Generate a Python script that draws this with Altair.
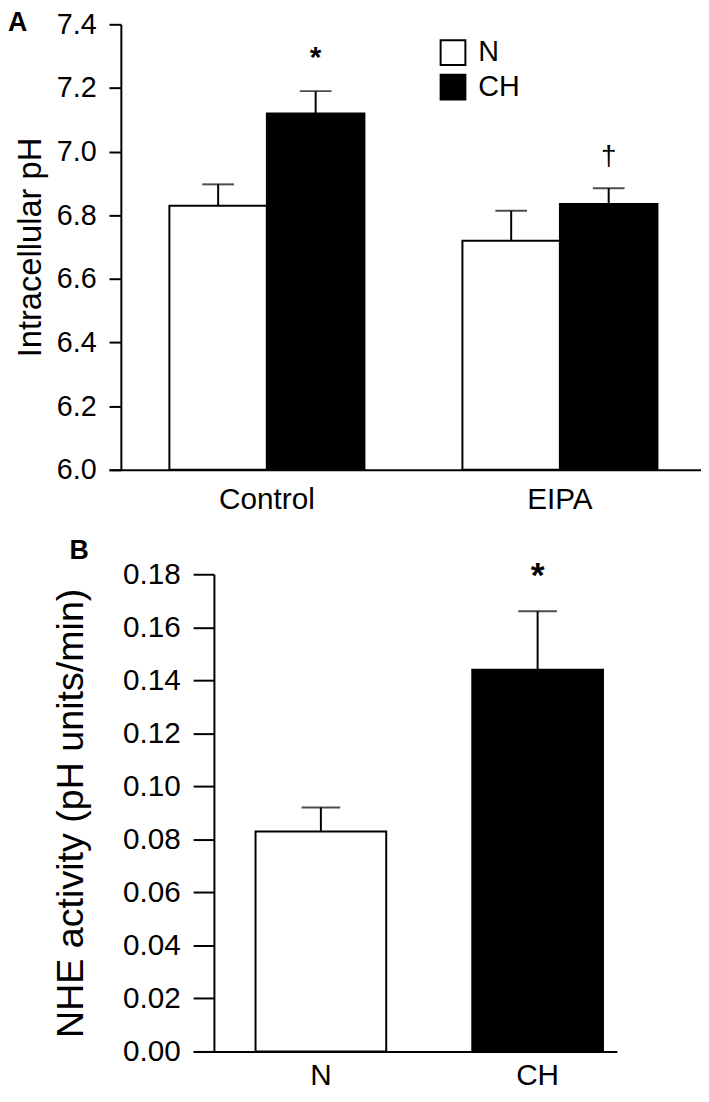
import altair as alt
import pandas as pd

FONT = "Liberation Sans"

# ---------------- Panel A data ----------------
a_group = ["Control", "Control", "EIPA", "EIPA"]
a_cond = ["N", "CH", "N", "CH"]
a_mean = [6.83, 7.12, 6.72, 6.835]
a_sem = [0.067, 0.07, 0.094, 0.05]
a_mark = ["", "*", "", "†"]
a_ticks = [6.0, 6.2, 6.4, 6.6, 6.8, 7.0, 7.2, 7.4]
a_groups_order = ["Control", "EIPA"]

# ---------------- Panel B data ----------------
b_cond = ["N", "CH"]
b_mean = [0.083, 0.144]
b_sem = [0.009, 0.022]
b_mark = ["", "*"]
b_ticks = [0.00, 0.02, 0.04, 0.06, 0.08, 0.10, 0.12, 0.14, 0.16, 0.18]

cond_order = ["N", "CH"]
cond_fill = ["white", "black"]
panel_labels = ["A", "B"]

dfA = pd.DataFrame({"group": a_group, "cond": a_cond, "mean": a_mean, "sem": a_sem, "mark": a_mark})
dfA["upper"] = dfA["mean"] + dfA["sem"]
dfB = pd.DataFrame({"cond": b_cond, "mean": b_mean, "sem": b_sem, "mark": b_mark})
dfB["upper"] = dfB["mean"] + dfB["sem"]

# ---------------- Panel A ----------------
xA = alt.X("group:N", sort=a_groups_order,
           scale=alt.Scale(paddingInner=0.3345, paddingOuter=0.1774, align=0.581),
           axis=alt.Axis(title=None, ticks=False, labelAngle=0, labelFontSize=30,
                         labelPadding=15, domainWidth=2, domainColor="black",
                         labelColor="black", labelFont=FONT))
xoA = alt.XOffset("cond:N", sort=cond_order, scale=alt.Scale(paddingInner=0, paddingOuter=0))
yA = alt.Y("mean:Q", scale=alt.Scale(domain=[6.0, 7.4], zero=False, nice=False),
           axis=alt.Axis(values=a_ticks, format=".1f", title="Intracellular pH",
                         titleFontSize=33, titleFontWeight="normal", titleFont=FONT,
                         titleColor="black", titlePadding=9, offset=-12,
                         labelFontSize=29, labelFont=FONT, labelColor="black",
                         labelPadding=13, tickSize=12, tickWidth=2, tickColor="black",
                         domainWidth=2, domainColor="black", grid=False))

baseA = alt.Chart(dfA).encode(x=xA, xOffset=xoA)

barsA = baseA.mark_bar(stroke="black", strokeWidth=2).encode(
    y=yA, y2=alt.datum(6.0),
    fill=alt.Fill("cond:N", sort=cond_order,
                  scale=alt.Scale(domain=cond_order, range=cond_fill),
                  legend=alt.Legend(title=None, orient="none", legendX=333, legendY=14,
                                    symbolType="square", symbolSize=625,
                                    symbolStrokeColor="black", symbolStrokeWidth=2,
                                    labelFontSize=29, labelFont=FONT, labelColor="black",
                                    labelOffset=11, rowPadding=2, padding=0)),
)
errA = baseA.mark_rule(color="black", strokeWidth=2).encode(y="mean:Q", y2="upper:Q")
capA = baseA.mark_tick(color="black", thickness=2, size=32).encode(y="upper:Q")
starA = baseA.transform_filter(alt.datum.mark == "*").mark_text(
    fontSize=30, fontWeight="bold", font=FONT, baseline="alphabetic", dy=-24, color="black"
).encode(y="upper:Q", text="mark:N")
daggerA = baseA.transform_filter(alt.datum.mark == "†").mark_text(
    fontSize=28, font=FONT, baseline="middle", dy=-31, color="black"
).encode(y="upper:Q", text="mark:N")
letterA = alt.Chart(pd.DataFrame({"p": [panel_labels[0]]})).mark_text(
    fontSize=27, fontWeight="bold", font=FONT, align="left", baseline="alphabetic", color="black"
).encode(x=alt.value(-102), y=alt.value(7), text="p:N")

chartA = alt.layer(barsA, errA, capA, starA, daggerA, letterA).properties(width=598, height=450)

# ---------------- Panel B ----------------
xB = alt.X("cond:N", sort=cond_order,
           scale=alt.Scale(paddingInner=0.397, paddingOuter=0.176, align=0.818),
           axis=alt.Axis(title=None, ticks=False, labelAngle=0, labelFontSize=30,
                         labelPadding=9, domainWidth=2, domainColor="black",
                         labelColor="black", labelFont=FONT))
yB = alt.Y("mean:Q", scale=alt.Scale(domain=[0, 0.18], nice=False),
           axis=alt.Axis(values=b_ticks, format=".2f", title="NHE activity (pH units/min)",
                         titleFontSize=38, titleFontWeight="normal", titleFont=FONT,
                         titleColor="black", titlePadding=32, offset=-21,
                         labelFontSize=30, labelFont=FONT, labelColor="black",
                         labelPadding=13, tickSize=21, tickWidth=2, tickColor="black",
                         domainWidth=2, domainColor="black", grid=False))

baseB = alt.Chart(dfB).encode(x=xB)
barsB = baseB.mark_bar(stroke="black", strokeWidth=2).encode(
    y=yB,
    fill=alt.Fill("cond:N", sort=cond_order,
                  scale=alt.Scale(domain=cond_order, range=cond_fill), legend=None),
)
errB = baseB.mark_rule(color="black", strokeWidth=2).encode(y="mean:Q", y2="upper:Q")
capB = baseB.mark_tick(color="black", thickness=2, size=39).encode(y="upper:Q")
starB = baseB.transform_filter(alt.datum.mark == "*").mark_text(
    fontSize=36, fontWeight="bold", font=FONT, baseline="alphabetic", dy=-25, color="black"
).encode(y="upper:Q", text="mark:N")
letterB = alt.Chart(pd.DataFrame({"p": [panel_labels[1]]})).mark_text(
    fontSize=27, fontWeight="bold", font=FONT, align="left", baseline="alphabetic", color="black"
).encode(x=alt.value(-125), y=alt.value(-15), text="p:N")

chartB = alt.layer(barsB, errB, capB, starB, letterB).properties(width=428, height=482)

chart = alt.vconcat(chartA, chartB, spacing=23.5, center=True).properties(
    padding={"left": 0, "top": -4, "right": 0, "bottom": -6}
).configure(font=FONT).configure_view(stroke=None)

chart.save("out.html", embed_options={"renderer": "svg", "actions": False})
